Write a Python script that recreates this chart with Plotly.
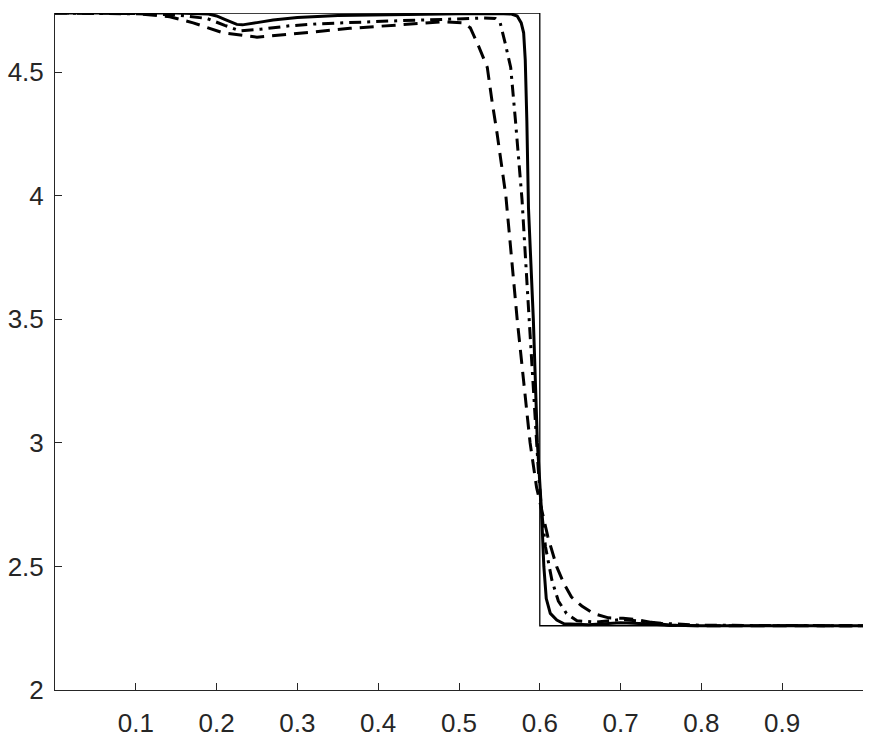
import plotly.graph_objects as go

# Exact solution
exact_x = [0.0, 0.6, 0.6, 1.0]
exact_y = [4.74, 4.74, 2.26, 2.26]

# Solid thick curve
solid_x = [0.0, 0.15, 0.19, 0.2, 0.21, 0.218, 0.225, 0.232, 0.24, 0.25, 0.27, 0.3, 0.35, 0.43, 0.5, 0.555,
           0.565, 0.572, 0.577, 0.580, 0.582, 0.584, 0.586, 0.592, 0.597, 0.602, 0.605, 0.608, 0.613,
           0.621, 0.63, 0.66, 0.7, 0.73, 0.76, 0.8, 1.0]
solid_y = [4.74, 4.74, 4.736, 4.728, 4.714, 4.702, 4.694, 4.692, 4.695, 4.701, 4.712, 4.722, 4.73, 4.735, 4.737, 4.737,
           4.736, 4.728, 4.70, 4.66, 4.55, 4.3, 3.95, 3.5, 3.0, 2.73, 2.5, 2.37, 2.31,
           2.283, 2.268, 2.264, 2.272, 2.268, 2.262, 2.26, 2.26]

# Dash-dot curve
dashdot_x = [0.0, 0.1, 0.118, 0.15, 0.188, 0.21, 0.229, 0.254, 0.29, 0.324, 0.38, 0.427, 0.48, 0.53, 0.545,
             0.551, 0.557, 0.564, 0.570, 0.578, 0.585, 0.592, 0.598, 0.602, 0.607, 0.615, 0.623, 0.633,
             0.646, 0.67, 0.7, 0.72, 0.75, 0.8, 1.0]
dashdot_y = [4.74, 4.738, 4.736, 4.732, 4.718, 4.69, 4.668, 4.674, 4.688, 4.696, 4.704, 4.709, 4.714, 4.72, 4.718,
             4.70, 4.62, 4.52, 4.3, 3.985, 3.6, 3.2, 2.9, 2.73, 2.58, 2.444, 2.36, 2.31,
             2.28, 2.275, 2.285, 2.28, 2.27, 2.262, 2.26]

# Dashed curve
dashed_x = [0.0, 0.1, 0.142, 0.171, 0.208, 0.25, 0.291, 0.365, 0.427, 0.48, 0.505, 0.514, 0.525, 0.535,
            0.541, 0.547, 0.558, 0.565, 0.572, 0.58, 0.588, 0.596, 0.602, 0.61, 0.621, 0.63, 0.639,
            0.652, 0.666, 0.685, 0.703, 0.72, 0.74, 0.761, 0.8, 1.0]
dashed_y = [4.74, 4.738, 4.725, 4.70, 4.66, 4.642, 4.654, 4.678, 4.692, 4.705, 4.70, 4.68, 4.6, 4.52,
            4.38, 4.255, 4.0, 3.75, 3.5, 3.25, 3.0, 2.82, 2.73, 2.62, 2.498, 2.43, 2.377,
            2.34, 2.31, 2.292, 2.29, 2.285, 2.272, 2.262, 2.26, 2.26]

x_ticks = [0.1, 0.2, 0.3, 0.4, 0.5, 0.6, 0.7, 0.8, 0.9]
x_tick_labels = ["0.1", "0.2", "0.3", "0.4", "0.5", "0.6", "0.7", "0.8", "0.9"]
y_ticks = [2, 2.5, 3, 3.5, 4, 4.5]
y_tick_labels = ["2", "2.5", "3", "3.5", "4", "4.5"]

fig = go.Figure()
fig.add_trace(go.Scatter(x=exact_x, y=exact_y, mode="lines",
                         line=dict(color="black", width=1.3), showlegend=False))
fig.add_trace(go.Scatter(x=dashed_x, y=dashed_y, mode="lines",
                         line=dict(color="black", width=3, dash="14px,8px"), showlegend=False))
fig.add_trace(go.Scatter(x=dashdot_x, y=dashdot_y, mode="lines",
                         line=dict(color="black", width=3, dash="12px,6px,3px,6px"), showlegend=False))
fig.add_trace(go.Scatter(x=solid_x, y=solid_y, mode="lines",
                         line=dict(color="black", width=3), showlegend=False))

axis_common = dict(showgrid=False, zeroline=False, showline=True, linecolor="#262626", linewidth=1,
                   ticks="inside", ticklen=7, tickcolor="#262626", tickwidth=1, automargin=False,
                   tickfont=dict(family="Liberation Sans, Arial, sans-serif", size=26, color="#262626"))

fig.update_xaxes(range=[0, 1], tickvals=x_ticks, ticktext=x_tick_labels, ticklabelstandoff=10, **axis_common)
fig.update_yaxes(range=[2, 4.74], tickvals=y_ticks, ticktext=y_tick_labels, ticklabelstandoff=5, **axis_common)

fig.update_layout(width=873, height=745, plot_bgcolor="white", paper_bgcolor="white",
                  margin=dict(l=55, r=10, t=13, b=55))

fig.write_html("out.html", config={"displayModeBar": False},
               post_script="document.body.style.margin='0';")
